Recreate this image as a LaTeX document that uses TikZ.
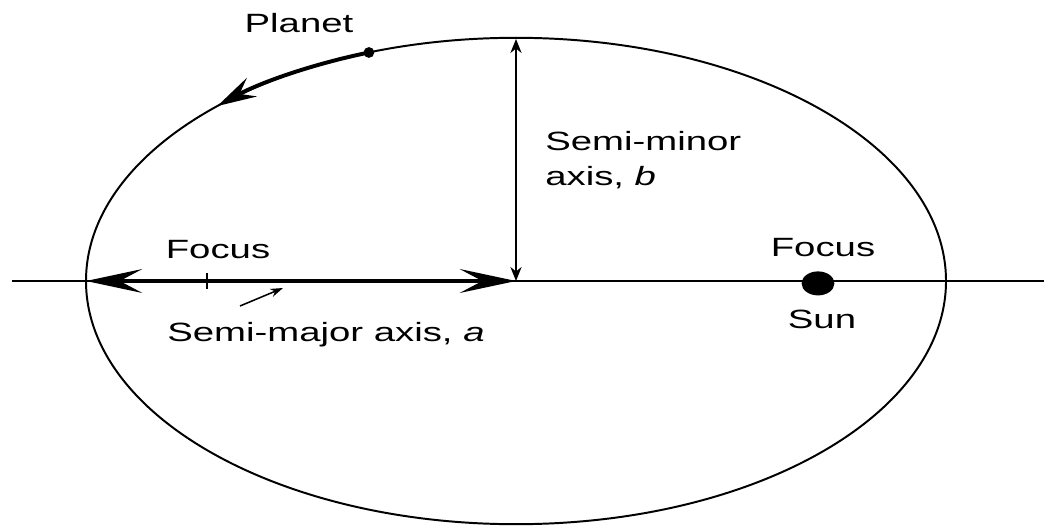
\documentclass[tikz,border=0pt]{standalone}
\usepackage{fontspec}
\setmainfont[FakeStretch=1.45]{Liberation Sans}
\usetikzlibrary{arrows.meta,shapes.geometric}

\tikzset{
  lbl/.style={font=\fontsize{18.8}{22}\selectfont, inner sep=0pt},
  bighead/.tip={Stealth[length=40pt,width=17pt,inset=16pt]},
  smallhead/.tip={Stealth[length=10pt,width=8pt]},
}

\begin{document}
\begin{tikzpicture}[x=1cm,y=1cm]
\useasboundingbox (0,0) rectangle (26.1,13.125);

% orbit and major axis line
\coordinate (C) at (12.9,6.1);
\coordinate (L) at (2.15,6.1);
\coordinate (T) at (12.9,12.15);
\coordinate (axL) at (0.3,6.1);
\coordinate (axR) at (26.1,6.1);
\draw[line width=1.4pt] (C) ellipse [x radius=10.75, y radius=6.08];
\draw[line width=1.1pt] (axL) -- (axR);

% semi-major and semi-minor axes
\draw[line width=2.8pt, bighead-bighead] (L) -- (C);
\draw[line width=1.1pt, smallhead-smallhead] (T) -- (C);

% empty focus
\coordinate (F1) at (5.175,6.1);
\draw[line width=1.1pt] ([yshift=-0.2cm]F1) -- ([yshift=0.2cm]F1);

% pointer to the semi-major axis
\coordinate (ptrA) at (6.0,5.475);
\coordinate (ptrB) at (7.075,5.925);
\draw[line width=1.1pt, -{Stealth[length=9pt,width=6pt]}] (ptrA) -- (ptrB);

% planet moving along the orbit
\coordinate (P) at (9.223,11.813);
\draw[line width=2.8pt, -{Stealth[length=28pt,width=15pt,inset=10pt]}] (P)
  arc[start angle=110, end angle=134, x radius=10.75, y radius=6.08];
\node[circle, fill, inner sep=0pt, minimum size=0.27cm] (planet) at (P) {};

% sun at the other focus
\node[ellipse, fill, inner sep=0pt, minimum width=0.82cm, minimum height=0.6cm] (sun) at (20.45,6.04) {};

% labels
\node[lbl, anchor=base] (planetlbl) at (7.475,12.3) {Planet};
\node[lbl, anchor=base west] (minor1) at (13.625,9.375) {Semi-minor};
\node[lbl, anchor=base west] (minor2) at (13.625,8.5) {axis, \textit{b}};
\node[lbl, anchor=base] (focus1) at (5.45,6.675) {Focus};
\node[lbl, anchor=base] (major) at (8.15,4.6) {Semi-major axis, \textit{a}};
\node[lbl, anchor=base] (focus2) at (20.575,6.725) {Focus};
\node[lbl, anchor=base] (sunlbl) at (20.55,4.925) {Sun};
\end{tikzpicture}
\end{document}
